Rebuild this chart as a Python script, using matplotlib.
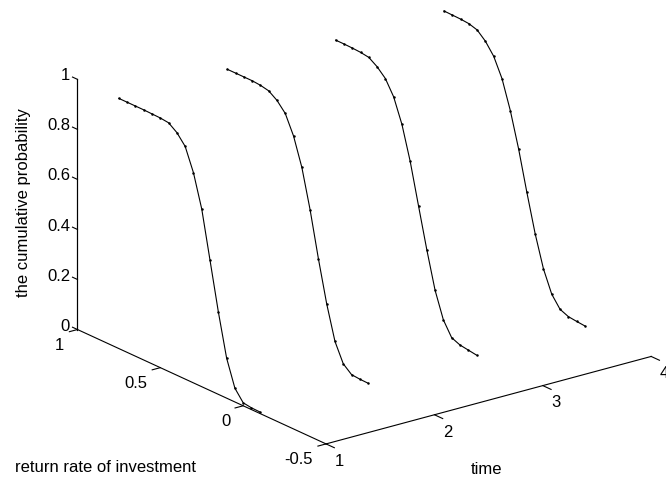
import numpy as np
import matplotlib.pyplot as plt
from mpl_toolkits.mplot3d import proj3d

plt.rcParams['font.family'] = ['Liberation Sans', 'DejaVu Sans']
plt.rcParams['font.size'] = 12

# return rate grid shared by every curve
rate = [0.75, 0.70, 0.65, 0.60, 0.55, 0.50, 0.45, 0.40, 0.35, 0.30,
        0.25, 0.20, 0.15, 0.10, 0.05, 0.00, -0.05, -0.10]
times = [1, 2, 3, 4]

# cumulative probability
prob_t1 = [1.0, 1.0, 1.0, 1.0, 0.999, 0.998, 0.994, 0.97, 0.93, 0.84,
           0.71, 0.52, 0.33, 0.16, 0.055, 0.012, 0.007, 0.006]
prob_t2 = [1.0, 1.0, 1.0, 1.0, 0.997, 0.99, 0.967, 0.93, 0.855, 0.745,
           0.59, 0.41, 0.245, 0.11, 0.036, 0.008, 0.005, 0.004]
prob_t3 = [1.0, 1.0, 0.999, 0.997, 0.992, 0.97, 0.938, 0.88, 0.785, 0.652,
           0.49, 0.33, 0.183, 0.08, 0.024, 0.01, 0.005, 0.0]
prob_t4 = [1.0, 0.999, 0.998, 0.995, 0.985, 0.955, 0.91, 0.836, 0.724, 0.586,
           0.427, 0.277, 0.152, 0.066, 0.021, 0.007, 0.003, 0.0]
probs = [prob_t1, prob_t2, prob_t3, prob_t4]

x_ticks = [1, 2, 3, 4]
y_ticks = [-0.5, 0, 0.5, 1]
y_labels = ['-0.5', '0', '0.5', '1']
z_ticks = [0, 0.2, 0.4, 0.6, 0.8, 1]
z_labels = ['0', '0.2', '0.4', '0.6', '0.8', '1']

xlo, xhi = 1, 4
ylo, yhi = -0.5, 1
zlo, zhi = 0, 1

fig = plt.figure(figsize=(6.66, 4.82), dpi=100)
ax = fig.add_axes([0.1754, 0.0344, 0.7237, 1.0], projection='3d', proj_type='ortho')
ax.view_init(elev=20.6, azim=-127.4)
ax.set_box_aspect((1, 1, 0.653), zoom=1.284)

for t, p in zip(times, probs):
    ax.plot(np.full(len(rate), t), rate, p, color='k', lw=0.8, marker='.', ms=1.6,
            clip_on=False)

ax.set_xlim(xlo, xhi)
ax.set_ylim(ylo, yhi)
ax.set_zlim(zlo, zhi)
ax.set_xticks([])
ax.set_yticks([])
ax.set_zticks([])

ax.grid(False)
for axis in (ax.xaxis, ax.yaxis, ax.zaxis):
    axis.set_pane_color((1, 1, 1, 0))
    axis.pane.set_edgecolor((1, 1, 1, 0))
    axis.line.set_color('k')
    axis.line.set_linewidth(0.8)
    axis.label.set_visible(False)
    axis.offsetText.set_visible(False)

M = ax.get_proj()

def label3d(x, y, z, s, **kw):
    # put a flat text at the projected spot of a 3D point
    px, py, _ = proj3d.proj_transform(x, y, z, M)
    ax.text2D(px, py, s, transform=ax.transData, **kw)

# MATLAB-style z edge and ticks
kw = dict(color='k', lw=0.8, clip_on=False)
ax.plot([xlo, xlo], [yhi, yhi], [zlo, zhi], **kw)
for t in x_ticks:
    ax.plot([t, t], [ylo, ylo - 0.05], [zlo, zlo], **kw)
    label3d(t, ylo - 0.08, zlo - 0.045, str(t), ha='center', va='center')
for v, s in zip(y_ticks, y_labels):
    ax.plot([xlo, xlo - 0.075], [v, v], [zlo, zlo], **kw)
    label3d(xlo - 0.12, v, zlo - 0.05, s, ha='right', va='center')
for v, s in zip(z_ticks, z_labels):
    ax.plot([xlo, xlo], [yhi, yhi + 0.03], [v, v], **kw)
    label3d(xlo, yhi + 0.045, v, s, ha='right', va='center')

fig.text(0.036, 0.58, 'the cumulative probability', rotation=90, ha='center', va='center')
fig.text(0.022, 0.03, 'return rate of investment', ha='left', va='center')
fig.text(0.73, 0.025, 'time', ha='center', va='center')

fig.savefig('out.png', dpi=100)
